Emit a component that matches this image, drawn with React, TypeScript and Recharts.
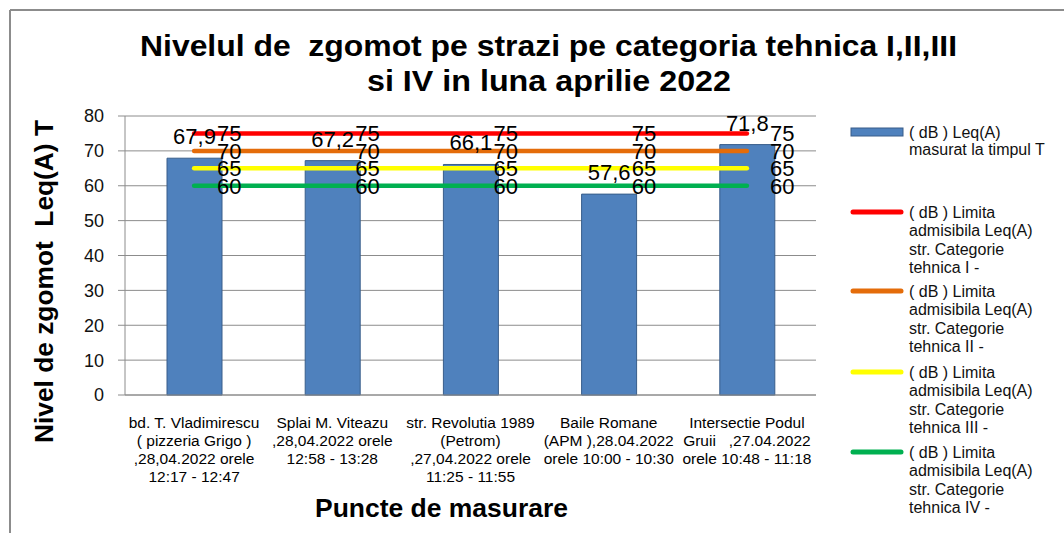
import React from 'react';
import { ComposedChart, Bar, Line, XAxis, YAxis, CartesianGrid, LabelList } from 'recharts';

const categories: string[][] = [
  ['bd. T. Vladimirescu', '( pizzeria Grigo )', ',28,04.2022 orele', '12:17 - 12:47'],
  ['Splai M. Viteazu', ',28,04.2022 orele', '12:58 - 13:28'],
  ['str. Revolutia 1989', '(Petrom)', ',27,04.2022 orele', '11:25 - 11:55'],
  ['Baile Romane', '(APM ),28.04.2022', 'orele 10:00 - 10:30'],
  ['Intersectie Podul', 'Gruii   ,27.04.2022', 'orele 10:48 - 11:18'],
];
const measured: number[] = [67.9, 67.2, 66.1, 57.6, 71.8];
const limitI: number[] = [75, 75, 75, 75, 75];
const limitII: number[] = [70, 70, 70, 70, 70];
const limitIII: number[] = [65, 65, 65, 65, 65];
const limitIV: number[] = [60, 60, 60, 60, 60];
const yTicks: number[] = [0, 10, 20, 30, 40, 50, 60, 70, 80];

const seriesNames = {
  measured: ['( dB ) Leq(A)', 'masurat la timpul T'],
  limI: ['( dB ) Limita', 'admisibila Leq(A)', 'str. Categorie', 'tehnica I -'],
  limII: ['( dB ) Limita', 'admisibila Leq(A)', 'str. Categorie', 'tehnica II -'],
  limIII: ['( dB ) Limita', 'admisibila Leq(A)', 'str. Categorie', 'tehnica III -'],
  limIV: ['( dB ) Limita', 'admisibila Leq(A)', 'str. Categorie', 'tehnica IV -'],
};

const data = categories.map((c, i) => ({
  name: c.join('\n'),
  idx: i,
  measured: measured[i],
  limI: limitI[i],
  limII: limitII[i],
  limIII: limitIII[i],
  limIV: limitIV[i],
}));

const FONT = '"Liberation Sans", Arial, sans-serif';
const BLUE = '#4F81BD';
const BLUE_BORDER = '#385D8A';
const RED = '#FF0000';
const ORANGE = '#E46C0A';
const YELLOW = '#FFFF00';
const GREEN = '#00B050';
const GRID = '#8C8C8C';

const fmt = (v: number) => String(v).replace('.', ',');

const CategoryTick = (props: any) => {
  const { x, y, payload } = props;
  const lines = categories[payload.index] ?? String(payload.value).split('\n');
  return (
    <text x={x} y={y + 25} textAnchor="middle" fontFamily={FONT} fontSize={15.5} fill="#000">
      {lines.map((l: string, i: number) => (
        <tspan key={i} x={x} y={y + 25 + i * 18} style={{ whiteSpace: 'pre' }}>
          {l}
        </tspan>
      ))}
    </text>
  );
};

const BarValueLabel = (props: any) => {
  const { x, y, width, value } = props;
  return (
    <text x={x + width / 2} y={y - 14} textAnchor="middle" fontFamily={FONT} fontSize={22} fill="#000">
      {fmt(value)}
    </text>
  );
};

const LineValueLabel = (props: any) => {
  const { x, y, value } = props;
  return (
    <text x={x + 23} y={y + 8} textAnchor="start" fontFamily={FONT} fontSize={22} fill="#000">
      {fmt(value)}
    </text>
  );
};

const LegendItem = ({ y, lines, color, bar }: { y: number; lines: string[]; color: string; bar?: boolean }) => (
  <g>
    {bar ? (
      <rect x={851} y={y - 4} width={52} height={8} fill={BLUE} stroke={BLUE_BORDER} strokeWidth={1} />
    ) : (
      <line x1={853} x2={901} y1={y} y2={y} stroke={color} strokeWidth={5} strokeLinecap="round" />
    )}
    <text fontFamily={FONT} fontSize={16} fill="#111">
      {lines.map((l, i) => (
        <tspan key={i} x={909} y={y + 6 + i * (bar ? 16.7 : 18.3)}>
          {l}
        </tspan>
      ))}
    </text>
  </g>
);

export default function App() {
  return (
    <div style={{ position: 'absolute', left: 0, top: 0, width: 1064, height: 533, background: '#fff' }}>
      <ComposedChart
        width={1064}
        height={533}
        data={data}
        margin={{ top: 116, right: 248, bottom: 58, left: 0 }}
        barCategoryGap={0}
      >
        <CartesianGrid vertical={false} stroke={GRID} strokeWidth={1} />
        <XAxis
          dataKey="name"
          interval={0}
          height={80}
          tickLine={false}
          axisLine={{ stroke: GRID, strokeWidth: 1 }}
          tick={<CategoryTick />}
        />
        <YAxis
          width={125}
          domain={[0, 80]}
          ticks={yTicks}
          interval={0}
          tickSize={7}
          tickMargin={14}
          tickLine={{ stroke: GRID }}
          axisLine={{ stroke: GRID, strokeWidth: 1 }}
          tick={{ fontFamily: FONT, fontSize: 18, fill: '#111' }}
        />
        <Bar dataKey="measured" barSize={55} fill={BLUE} stroke={BLUE_BORDER} strokeWidth={1} isAnimationActive={false}>
          <LabelList dataKey="measured" content={<BarValueLabel />} />
        </Bar>
        <Line dataKey="limI" type="linear" stroke={RED} strokeWidth={4.5} strokeLinecap="round" dot={false} activeDot={false} isAnimationActive={false}>
          <LabelList dataKey="limI" content={<LineValueLabel />} />
        </Line>
        <Line dataKey="limII" type="linear" stroke={ORANGE} strokeWidth={4.5} strokeLinecap="round" dot={false} activeDot={false} isAnimationActive={false}>
          <LabelList dataKey="limII" content={<LineValueLabel />} />
        </Line>
        <Line dataKey="limIII" type="linear" stroke={YELLOW} strokeWidth={4.5} strokeLinecap="round" dot={false} activeDot={false} isAnimationActive={false}>
          <LabelList dataKey="limIII" content={<LineValueLabel />} />
        </Line>
        <Line dataKey="limIV" type="linear" stroke={GREEN} strokeWidth={4.5} strokeLinecap="round" dot={false} activeDot={false} isAnimationActive={false}>
          <LabelList dataKey="limIV" content={<LineValueLabel />} />
        </Line>
      </ComposedChart>
      <svg
        width={1064}
        height={533}
        style={{ position: 'absolute', left: 0, top: 0, pointerEvents: 'none' }}
      >
        <line x1={10} x2={1064} y1={10} y2={10} stroke="#8C8C8C" strokeWidth={2} />
        <line x1={10} x2={10} y1={10} y2={533} stroke="#8C8C8C" strokeWidth={2} />
        <text x={140} y={56} fontFamily={FONT} fontSize={30} fontWeight="bold" fill="#000" textLength={817} lengthAdjust="spacingAndGlyphs" style={{ whiteSpace: 'pre' }}>
          Nivelul de  zgomot pe strazi pe categoria tehnica I,II,III
        </text>
        <text x={367} y={91} fontFamily={FONT} fontSize={30} fontWeight="bold" fill="#000" textLength={364} lengthAdjust="spacingAndGlyphs">
          si IV in luna aprilie 2022
        </text>
        <text
          transform="translate(53, 443) rotate(-90)"
          x={0}
          y={0}
          fontFamily={FONT}
          fontSize={25}
          fontWeight="bold"
          fill="#000"
          textLength={323}
          lengthAdjust="spacingAndGlyphs"
          style={{ whiteSpace: 'pre' }}
        >
          Nivel de zgomot  Leq(A) T
        </text>
        <text x={315} y={517} fontFamily={FONT} fontSize={25} fontWeight="bold" fill="#000" textLength={253} lengthAdjust="spacingAndGlyphs">
          Puncte de masurare
        </text>
        <LegendItem y={132} lines={seriesNames.measured} color={BLUE} bar />
        <LegendItem y={212} lines={seriesNames.limI} color={RED} />
        <LegendItem y={291} lines={seriesNames.limII} color={ORANGE} />
        <LegendItem y={372} lines={seriesNames.limIII} color={YELLOW} />
        <LegendItem y={452} lines={seriesNames.limIV} color={GREEN} />
      </svg>
    </div>
  );
}
